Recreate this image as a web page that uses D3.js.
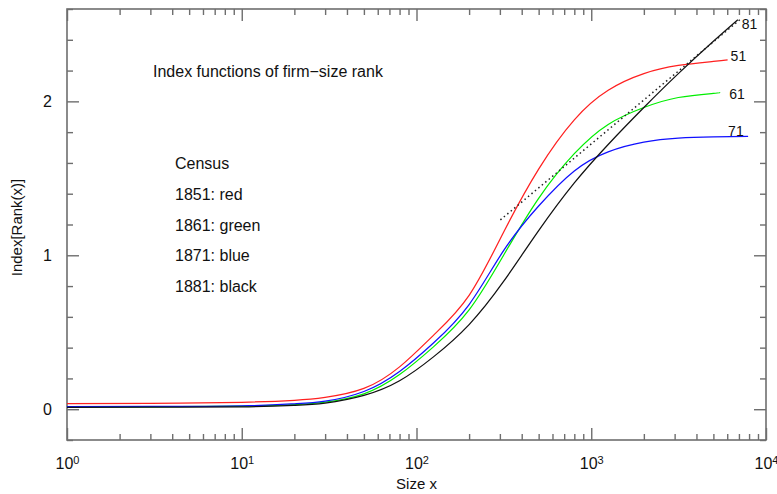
<!DOCTYPE html>
<html>
<head>
<meta charset="utf-8">
<script src="https://cdn.jsdelivr.net/npm/d3@7"></script>
<style>
  body { margin: 0; background: #fff; }
  text { font-family: "Liberation Sans", Arial, sans-serif; fill: #111; }
</style>
</head>
<body>
<svg id="chart" width="777" height="494"></svg>
<script>
// firm size grid (x) shared by the four census curves
const sizes = [1, 3, 10, 20, 30, 50, 80, 125, 200, 315, 500, 800, 1250, 2000, 3150, 5000];

const census1851 = [0.037, 0.038, 0.045, 0.058, 0.077, 0.135, 0.275, 0.48, 0.74, 1.15, 1.56, 1.88, 2.072, 2.18, 2.233, 2.259];
const census1861 = [0.015, 0.016, 0.02, 0.03, 0.046, 0.10, 0.225, 0.405, 0.645, 1.0, 1.37, 1.66, 1.85, 1.96, 2.025, 2.052];
const census1871 = [0.017, 0.018, 0.022, 0.035, 0.052, 0.115, 0.245, 0.43, 0.68, 1.03, 1.32, 1.548, 1.672, 1.735, 1.761, 1.769];
const census1881 = [0.012, 0.013, 0.015, 0.025, 0.04, 0.09, 0.185, 0.34, 0.55, 0.83, 1.16, 1.47, 1.72, 1.96, 2.18, 2.39];

// last point of each curve
const endSize = [6030, 5400, 7900, 6900];
const endValue = [2.27, 2.057, 1.772, 2.53];

const seriesLabels = ["51", "61", "71", "81"];
const seriesColors = ["#ff2020", "#00ee00", "#1010ff", "#111111"];

// dotted reference line (x, y)
const refSizes = [302, 7080];
const refValues = [1.23, 2.53];

const xMajor = [1, 10, 100, 1000, 10000];
const yMajor = [0, 1, 2];

const legendLines = ["Census", "1851: red", "1861: green", "1871: blue", "1881: black"];

const svg = d3.select("#chart");
const W = +svg.attr("width");
const H = +svg.attr("height");
const margin = { top: 9, right: 11, bottom: 54, left: 67 };
const innerW = W - margin.left - margin.right;
const innerH = H - margin.top - margin.bottom;
const axisColor = "#6e6e6e";

const g = svg.append("g")
  .attr("transform", `translate(${margin.left},${margin.top})`);

const x = d3.scaleLog().domain([1, 10000]).range([0, innerW]);
const y = d3.scaleLinear().domain([-0.2, 2.6]).range([innerH, 0]);

const xMinor = [];
for (let k = 0; k < 4; k++) {
  for (let m = 2; m <= 9; m++) xMinor.push(m * Math.pow(10, k));
}
const yMinor = d3.range(-0.2, 2.61, 0.2).map(v => +v.toFixed(1)).filter(v => !yMajor.includes(v));

function styleAxis(sel) {
  sel.select(".domain").remove();
  sel.selectAll("line").attr("stroke", axisColor).attr("stroke-width", 1.4);
}

// minor ticks
g.append("g").attr("transform", `translate(0,${innerH})`)
  .call(d3.axisBottom(x).tickValues(xMinor).tickSize(-6).tickFormat(""))
  .call(styleAxis);
g.append("g")
  .call(d3.axisTop(x).tickValues(xMinor).tickSize(-6).tickFormat(""))
  .call(styleAxis);
g.append("g")
  .call(d3.axisLeft(y).tickValues(yMinor).tickSize(-6).tickFormat(""))
  .call(styleAxis);
g.append("g").attr("transform", `translate(${innerW},0)`)
  .call(d3.axisRight(y).tickValues(yMinor).tickSize(-6).tickFormat(""))
  .call(styleAxis);

// major ticks
const bottomAxis = g.append("g").attr("transform", `translate(0,${innerH})`)
  .call(d3.axisBottom(x).tickValues(xMajor).tickSize(-12).tickPadding(18))
  .call(styleAxis);
g.append("g")
  .call(d3.axisTop(x).tickValues(xMajor).tickSize(-12).tickFormat(""))
  .call(styleAxis);
g.append("g")
  .call(d3.axisLeft(y).tickValues(yMajor).tickSize(-12).tickPadding(15).tickFormat(d3.format("d")))
  .call(styleAxis)
  .selectAll("text").attr("font-size", 16).attr("fill", "#111");
g.append("g").attr("transform", `translate(${innerW},0)`)
  .call(d3.axisRight(y).tickValues(yMajor).tickSize(-12).tickFormat(""))
  .call(styleAxis);

// 10^k labels
bottomAxis.selectAll("text")
  .attr("font-size", 16)
  .attr("fill", "#111")
  .each(function(d) {
    const t = d3.select(this).text(null);
    t.append("tspan").text("10");
    t.append("tspan").attr("dy", "-0.45em").attr("font-size", 11).text(Math.round(Math.log10(d)));
  });

// frame
g.append("rect")
  .attr("width", innerW)
  .attr("height", innerH)
  .attr("fill", "none")
  .attr("stroke", axisColor)
  .attr("stroke-width", 1.6);

// curves
const allSeries = [census1851, census1861, census1871, census1881];
const line = d3.line()
  .x(d => x(d[0]))
  .y(d => y(d[1]))
  .curve(d3.curveNatural);

allSeries.forEach((vals, i) => {
  const pts = sizes.map((s, j) => [s, vals[j]]);
  pts.push([endSize[i], endValue[i]]);
  g.append("path")
    .datum(pts)
    .attr("d", line)
    .attr("fill", "none")
    .attr("stroke", seriesColors[i])
    .attr("stroke-width", 1.25);
});

// dotted reference line
g.append("path")
  .datum(refSizes.map((s, j) => [s, refValues[j]]))
  .attr("d", d3.line().x(d => x(d[0])).y(d => y(d[1])))
  .attr("fill", "none")
  .attr("stroke", "#222")
  .attr("stroke-width", 1.5)
  .attr("stroke-dasharray", "1.5,3");

// curve end labels
const labelOffsets = [[3, 1], [10, 6], [-20, 0], [4, 9]];
seriesLabels.forEach((lab, i) => {
  g.append("text")
    .attr("x", x(endSize[i]) + labelOffsets[i][0])
    .attr("y", y(endValue[i]) + labelOffsets[i][1])
    .attr("font-size", 14)
    .text(lab);
});

// title and legend text
svg.append("text")
  .attr("x", 153)
  .attr("y", 77)
  .attr("font-size", 16)
  .text("Index functions of firm\u2212size rank");

legendLines.forEach((t, i) => {
  svg.append("text")
    .attr("x", 175)
    .attr("y", 169 + i * 30.8)
    .attr("font-size", 16)
    .text(t);
});

// axis titles
svg.append("text")
  .attr("x", margin.left + innerW / 2)
  .attr("y", 489)
  .attr("text-anchor", "middle")
  .attr("font-size", 15)
  .text("Size x");

svg.append("text")
  .attr("transform", `translate(22,${margin.top + innerH / 2 + 3}) rotate(-90)`)
  .attr("text-anchor", "middle")
  .attr("font-size", 15)
  .text("Index[Rank(x)]");
</script>
</body>
</html>
